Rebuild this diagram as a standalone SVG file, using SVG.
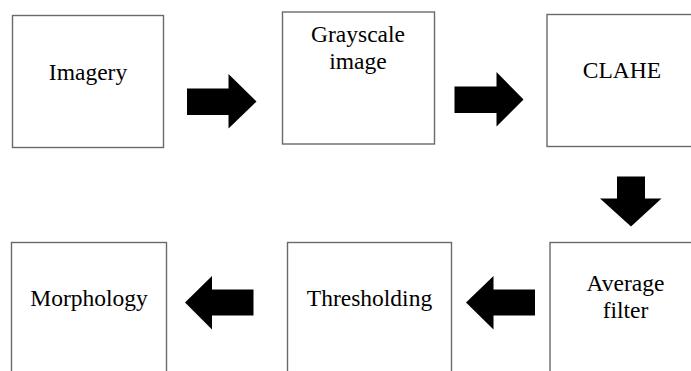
<svg xmlns="http://www.w3.org/2000/svg" width="691" height="371" viewBox="0 0 691 371">
  <style>
    .box { fill: #ffffff; stroke: #6a6a6a; stroke-width: 1.4; }
    .lbl { font-size: 23.5px; fill: #000000; text-anchor: middle; }
    .arrow { fill: #000000; stroke: none; }
  </style>
  <rect width="691" height="371" fill="#ffffff"/>

  <g font-family="'Liberation Serif', 'Times New Roman', 'DejaVu Serif', serif">
    <g id="imagery">
      <rect class="box" x="12.5" y="15.5" width="151" height="132"/>
      <text class="lbl" x="88" y="80">Imagery</text>
    </g>

    <g id="grayscale">
      <rect class="box" x="282.5" y="12" width="152" height="132"/>
      <text class="lbl" x="358" y="42">Grayscale</text>
      <text class="lbl" x="358" y="69">image</text>
    </g>

    <g id="clahe">
      <rect class="box" x="547" y="14.5" width="150" height="132"/>
      <text class="lbl" x="622" y="77.5">CLAHE</text>
    </g>

    <g id="average-filter">
      <rect class="box" x="550" y="242.5" width="151" height="140"/>
      <text class="lbl" x="625.5" y="291">Average</text>
      <text class="lbl" x="625.5" y="318">filter</text>
    </g>

    <g id="thresholding">
      <rect class="box" x="287.5" y="242.5" width="164" height="140"/>
      <text class="lbl" x="369.5" y="306">Thresholding</text>
    </g>

    <g id="morphology">
      <rect class="box" x="11.5" y="242.5" width="155" height="140"/>
      <text class="lbl" x="89" y="306">Morphology</text>
    </g>
  </g>

  <g id="connectors">
    <!-- block arrows between stages -->
    <polygon class="arrow" points="187,88.5 228.5,88.5 228.5,74 256.5,101.5 228.5,128.5 228.5,115 187,115"/>
    <polygon class="arrow" points="454.5,86.5 496.5,86.5 496.5,72 523.5,99.5 496.5,126.5 496.5,113 454.5,113"/>
    <polygon class="arrow" points="617,176.5 645,176.5 645,198.5 661.5,198.5 631,226.5 600,198.5 617,198.5"/>
    <polygon class="arrow" points="535,289.5 493.5,289.5 493.5,276 466,302.5 493.5,329.5 493.5,315.5 535,315.5"/>
    <polygon class="arrow" points="253.5,289.5 212,289.5 212,276 185,302.5 212,329.5 212,315.5 253.5,315.5"/>
  </g>
</svg>
